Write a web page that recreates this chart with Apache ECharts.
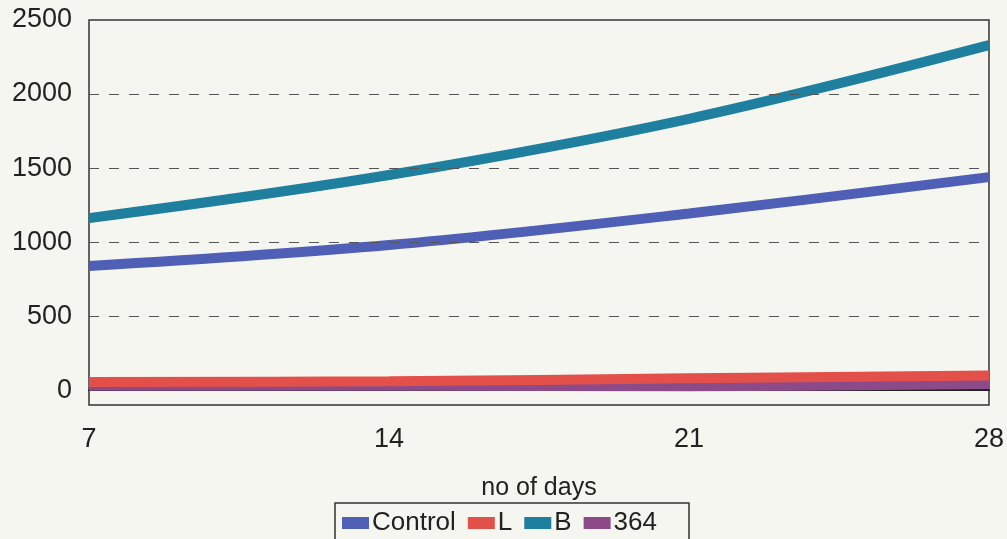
<!DOCTYPE html>
<html>
<head>
<meta charset="utf-8">
<script src="https://cdn.jsdelivr.net/npm/echarts@6/dist/echarts.min.js"></script>
<style>
  html, body { margin: 0; padding: 0; background: #f6f6f0; }
  #chart { width: 1007px; height: 539px; }
</style>
</head>
<body>
<div id="chart"></div>
<script>
// Growth over days for the four treatments
const days = [7, 14, 21, 28];
const control = [838, 980, 1193, 1439];
const seriesL = [55, 60, 80, 100];
const seriesB = [1162, 1453, 1833, 2330];
const series364 = [30, 30, 27, 42];
const gridValues = [500, 1000, 1500, 2000];

const legendNames = ['Control', 'L', 'B', '364'];
const colors = {
  'Control': '#4f5fb5',
  'L': '#e3504a',
  'B': '#1f7f9e',
  '364': '#8c4a88'
};

const font = '"Liberation Sans", Arial, sans-serif';

function pairs(values) {
  return days.map((d, i) => [d, values[i]]);
}

function lineSeries(name, values, z) {
  return {
    name: name,
    type: 'line',
    data: pairs(values),
    smooth: 0.35,
    showSymbol: false,
    symbol: 'rect',
    z: z,
    color: colors[name],
    lineStyle: { width: 10, color: colors[name], cap: 'butt' },
    emphasis: { disabled: true }
  };
}

const chart = echarts.init(document.getElementById('chart'));
chart.setOption({
  backgroundColor: '#f6f6f0',
  animation: false,
  grid: {
    left: 89, right: 14, top: 20, bottom: 134,
    show: true,
    borderColor: '#333',
    borderWidth: 1.5,
    backgroundColor: 'transparent'
  },
  xAxis: {
    type: 'value',
    min: 7, max: 28, interval: 7,
    name: 'no of days',
    nameLocation: 'middle',
    nameGap: 71,
    nameTextStyle: { fontFamily: font, fontSize: 25, color: '#222' },
    axisLine: { show: true, onZero: true, lineStyle: { color: '#222', width: 2 } },
    axisTick: { show: false },
    splitLine: { show: false },
    axisLabel: { fontFamily: font, fontSize: 27, color: '#222', margin: 21 }
  },
  yAxis: {
    type: 'value',
    min: -100, max: 2500, interval: 100,
    axisLine: { show: false },
    axisTick: { show: false },
    splitLine: { show: false },
    axisLabel: {
      fontFamily: font, fontSize: 27, color: '#222', margin: 17,
      formatter: v => (v >= 0 && v % 500 === 0) ? String(v) : ''
    }
  },
  legend: {
    data: legendNames,
    left: 335, top: 503,
    orient: 'horizontal',
    icon: 'rect',
    itemWidth: 27, itemHeight: 12,
    itemGap: 12,
    padding: [7, 32, 10, 7],
    borderColor: '#333', borderWidth: 1.5,
    backgroundColor: '#f6f6f0',
    textStyle: { fontFamily: font, fontSize: 26, color: '#222', padding: [0, 0, 0, -2] }
  },
  series: [
    lineSeries('364', series364, 2),
    lineSeries('L', seriesL, 3),
    lineSeries('Control', control, 3),
    Object.assign(lineSeries('B', seriesB, 3), {
      markLine: {
        silent: true,
        symbol: 'none',
        label: { show: false },
        lineStyle: { color: '#555', width: 1, type: [10, 10] },
        data: gridValues.map(v => ({ yAxis: v }))
      }
    })
  ]
});
</script>
</body>
</html>
